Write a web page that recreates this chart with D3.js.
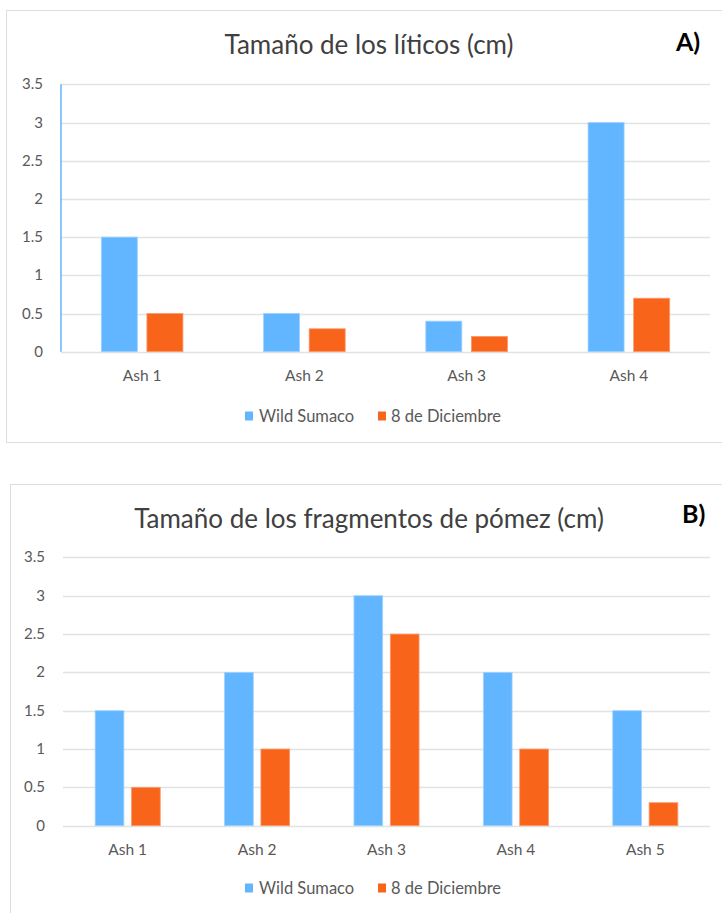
<!DOCTYPE html>
<html>
<head>
<meta charset="utf-8">
<script src="https://cdn.jsdelivr.net/npm/d3@7"></script>
<style>
  html, body { margin: 0; padding: 0; background: #fff; }
  svg { display: block; }
  text { font-family: Lato, "Open Sans", sans-serif; }
</style>
</head>
<body>
<svg id="chart" width="722" height="913"></svg>
<script>
// Panel A: lithic size
const categoriesA = ["Ash 1", "Ash 2", "Ash 3", "Ash 4"];
const wildSumacoA = [1.5, 0.5, 0.4, 3];
const diciembreA  = [0.5, 0.3, 0.2, 0.7];

// Panel B: pumice fragment size
const categoriesB = ["Ash 1", "Ash 2", "Ash 3", "Ash 4", "Ash 5"];
const wildSumacoB = [1.5, 2, 3, 2, 1.5];
const diciembreB  = [0.5, 1, 2.5, 1, 0.3];

const seriesNames = ["Wild Sumaco", "8 de Diciembre"];
const yTicks = [0, 0.5, 1, 1.5, 2, 2.5, 3, 3.5];
const tickLabels = ["0", "0.5", "1", "1.5", "2", "2.5", "3", "3.5"];

const colors = ["#62b5ff", "#f8641a"];
const strokes = ["#9fd2ff", "#fb9a6a"];
const gridColor = "#dfe3e3";
const textColor = "#595959";

const svg = d3.select("#chart");

function drawPanel(cfg) {
  const g = svg.append("g");

  // outer frame
  g.append("rect")
    .attr("x", cfg.frame.x).attr("y", cfg.frame.y)
    .attr("width", cfg.frame.w).attr("height", cfg.frame.h)
    .attr("fill", "none").attr("stroke", "#d9dede").attr("stroke-width", 1);

  const y = d3.scaleLinear().domain([0, 3.5]).range([cfg.y0, cfg.y35]);
  const x0 = d3.scaleBand().domain(cfg.categories).range([cfg.left, cfg.right]).padding(0);
  const groupW = x0.bandwidth() * 0.503;
  const x1 = d3.scaleBand().domain(seriesNames).range([0, groupW]).paddingInner(0.21);

  // gridlines
  g.append("g").selectAll("line").data(yTicks).join("line")
    .attr("x1", cfg.gridLeft).attr("x2", cfg.right)
    .attr("y1", d => Math.round(y(d)) + 0.5).attr("y2", d => Math.round(y(d)) + 0.5)
    .attr("stroke", gridColor).attr("stroke-width", 1.3);

  // y tick labels
  g.append("g").selectAll("text").data(yTicks).join("text")
    .attr("x", cfg.tickRight).attr("y", d => y(d) + 5)
    .attr("text-anchor", "end")
    .attr("font-size", 15).attr("fill", textColor)
    .text((d, i) => tickLabels[i]);

  // bars
  const rows = cfg.categories.map((c, i) => ({ cat: c, values: [cfg.s1[i], cfg.s2[i]] }));
  const groups = g.append("g").selectAll("g").data(rows).join("g")
    .attr("transform", d => `translate(${x0(d.cat) + (x0.bandwidth() - groupW) / 2},0)`);
  groups.selectAll("rect").data(d => d.values.map((v, k) => ({ v, k }))).join("rect")
    .attr("x", d => x1(seriesNames[d.k]))
    .attr("width", x1.bandwidth())
    .attr("y", d => y(d.v))
    .attr("height", d => y(0) - y(d.v))
    .attr("fill", d => colors[d.k])
    .attr("stroke", d => strokes[d.k]).attr("stroke-width", 0.8);

  // optional coloured value axis line
  if (cfg.axisLine) {
    g.append("line")
      .attr("x1", cfg.left).attr("x2", cfg.left)
      .attr("y1", y(3.5)).attr("y2", y(0))
      .attr("stroke", colors[0]).attr("stroke-width", 1.5);
  }

  // category labels
  g.append("g").selectAll("text").data(cfg.categories).join("text")
    .attr("x", d => x0(d) + x0.bandwidth() / 2)
    .attr("y", y(0) + 29)
    .attr("text-anchor", "middle")
    .attr("font-size", 15.5).attr("fill", textColor)
    .text(d => d);

  // title and panel letter
  g.append("text")
    .attr("x", 369).attr("y", cfg.titleY)
    .attr("text-anchor", "middle")
    .attr("font-size", 26).attr("fill", "#404040")
    .text(cfg.title);
  g.append("text")
    .attr("x", cfg.letterX).attr("y", cfg.letterY)
    .attr("font-size", 25).attr("font-weight", "bold").attr("fill", "#000")
    .text(cfg.letter);

  // legend
  const legendY = cfg.legendY;
  const legendItems = [
    { name: seriesNames[0], sx: 245, tx: 259 },
    { name: seriesNames[1], sx: 378, tx: 391 }
  ];
  const lg = g.append("g").selectAll("g").data(legendItems).join("g");
  lg.append("rect")
    .attr("x", d => d.sx).attr("y", legendY - 4.5)
    .attr("width", 8).attr("height", 9)
    .attr("fill", (d, i) => colors[i]);
  lg.append("text")
    .attr("x", d => d.tx).attr("y", legendY + 6)
    .attr("font-size", 16.5).attr("fill", textColor)
    .text(d => d.name);
}

drawPanel({
  frame: { x: 6.5, y: 10.5, w: 730, h: 432 },
  categories: categoriesA, s1: wildSumacoA, s2: diciembreA,
  left: 61, gridLeft: 61, right: 710, y0: 351.7, y35: 84.3,
  tickRight: 43, axisLine: true,
  title: "Tamaño de los líticos (cm)", titleY: 54,
  letter: "A)", letterX: 676, letterY: 51,
  legendY: 416
});

drawPanel({
  frame: { x: 10.5, y: 484.5, w: 730, h: 440 },
  categories: categoriesB, s1: wildSumacoB, s2: diciembreB,
  left: 63, gridLeft: 63, right: 710, y0: 825.7, y35: 557.4,
  tickRight: 45, axisLine: false,
  title: "Tamaño de los fragmentos de pómez (cm)", titleY: 528,
  letter: "B)", letterX: 682, letterY: 523,
  legendY: 888
});
</script>
</body>
</html>
